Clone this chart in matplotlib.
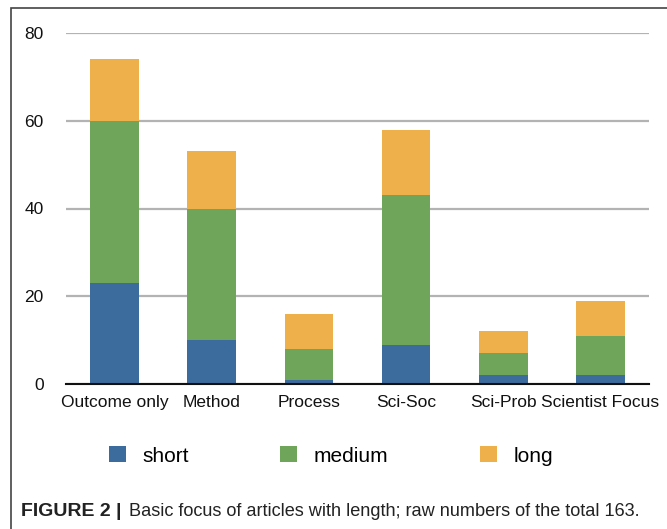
import matplotlib
matplotlib.use('Agg')
import matplotlib.pyplot as plt
from matplotlib.patches import Rectangle
import numpy as np

plt.rcParams['font.family'] = ['Liberation Sans', 'DejaVu Sans']

categories = ['Outcome only', 'Method', 'Process', 'Sci-Soc', 'Sci-Prob', 'Scientist Focus']
short = [23, 10, 1, 9, 2, 2]
medium = [37, 30, 7, 34, 5, 9]
long_ = [14, 13, 8, 15, 5, 8]

c_short = '#3c6b9e'
c_medium = '#6fa55a'
c_long = '#edb04b'

fig = plt.figure(figsize=(6.67, 5.29), dpi=100)
ax = fig.add_axes([66 / 667, 1 - 384 / 529, 583 / 667, 351 / 529])

x = np.arange(len(categories))
w = 0.5
b1 = ax.bar(x, short, w, color=c_short, label='short', zorder=3)
b2 = ax.bar(x, medium, w, bottom=short, color=c_medium, label='medium', zorder=3)
bottom2 = np.array(short) + np.array(medium)
b3 = ax.bar(x, long_, w, bottom=bottom2, color=c_long, label='long', zorder=3)

ax.set_xlim(-0.5, len(categories) - 0.5)
ax.set_ylim(0, 80)
ax.set_yticks([0, 20, 40, 60, 80])
ax.yaxis.grid(True, color='#b3b3b3', linewidth=1.6, zorder=0)
ax.set_axisbelow(True)
for s in ['top', 'right', 'left']:
    ax.spines[s].set_visible(False)
ax.spines['bottom'].set_color('#111111')
ax.spines['bottom'].set_linewidth(1.5)
ax.spines['bottom'].set_zorder(4)
ax.tick_params(axis='both', length=0, labelsize=12.5, colors='#111111')
ax.tick_params(axis='y', pad=16)
ax.tick_params(axis='x', pad=8)
ax.set_xticks(x)
ax.set_xticklabels(categories)

fig.legend(handles=[b1, b2, b3], labels=['short', 'medium', 'long'],
           loc='center', bbox_to_anchor=(331 / 667, 1 - 456 / 529), ncol=3,
           frameon=False, fontsize=15, handlelength=0.8, handleheight=0.8,
           handletextpad=0.8, columnspacing=4.4, borderpad=0, borderaxespad=0)

# figure frame
fig.patches.append(Rectangle((11 / 667, -0.1), 1.2, 1.1 - 8 / 529,
                             transform=fig.transFigure, fill=False,
                             edgecolor='#444444', linewidth=1.2))

fig.text(21 / 667, 1 - 511 / 529, 'FIGURE 2 |', fontsize=14,
         fontweight='bold', va='center', ha='left', color='#222222')
fig.text(129 / 667, 1 - 511 / 529,
         'Basic focus of articles with length; raw numbers of the total 163.',
         fontsize=13.1, va='center', ha='left', color='#222222')

fig.savefig('out.png', dpi=100)
